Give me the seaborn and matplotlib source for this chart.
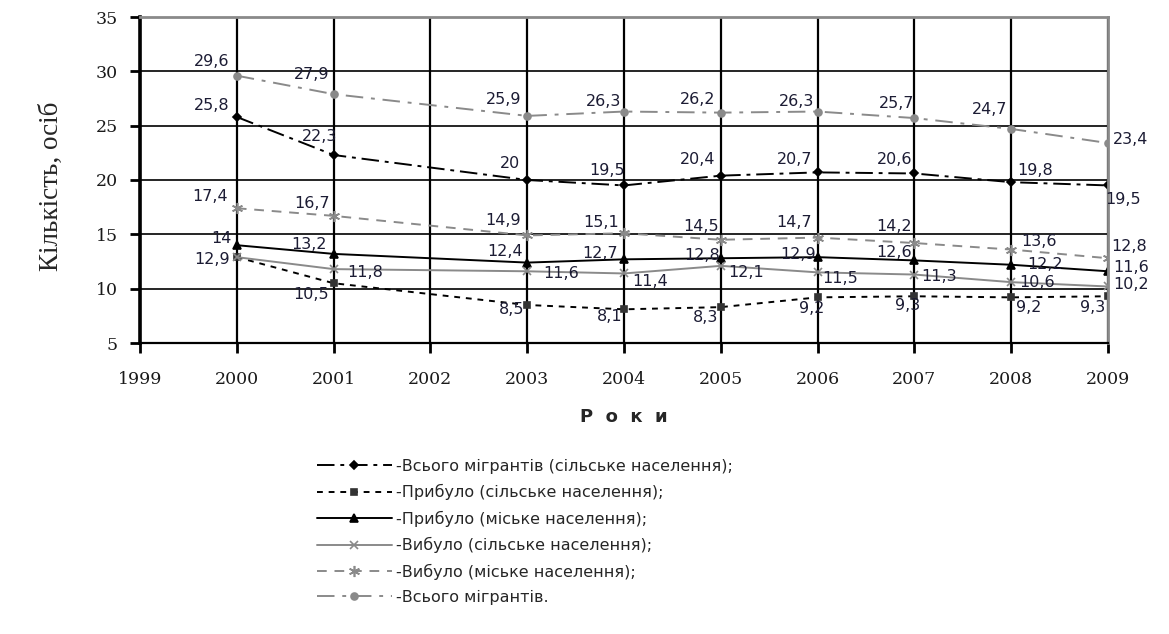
import matplotlib
matplotlib.use("Agg")
import matplotlib.pyplot as plt
import seaborn as sns

# ---- data ----
years = [2000, 2001, 2003, 2004, 2005, 2006, 2007, 2008, 2009]
total_rural = [25.8, 22.3, 20.0, 19.5, 20.4, 20.7, 20.6, 19.8, 19.5]
arrived_rural = [12.9, 10.5, 8.5, 8.1, 8.3, 9.2, 9.3, 9.2, 9.3]
arrived_urban = [14.0, 13.2, 12.4, 12.7, 12.8, 12.9, 12.6, 12.2, 11.6]
left_rural = [12.9, 11.8, 11.6, 11.4, 12.1, 11.5, 11.3, 10.6, 10.2]
left_urban = [17.4, 16.7, 14.9, 15.1, 14.5, 14.7, 14.2, 13.6, 12.8]
total_all = [29.6, 27.9, 25.9, 26.3, 26.2, 26.3, 25.7, 24.7, 23.4]

series_names = [
    "-Всього мігрантів (сільське населення);",
    "-Прибуло (сільське населення);",
    "-Прибуло (міське населення);",
    "-Вибуло (сільське населення);",
    "-Вибуло (міське населення);",
    "-Всього мігрантів.",
]
series_values = [total_rural, arrived_rural, arrived_urban, left_rural, left_urban, total_all]
# points without their own value label (shares label at 2000)
hide_label = [[], [2000], [], [], [], []]

x_ticks = list(range(1999, 2010))
y_ticks = list(range(5, 40, 5))

# ---- styles ----
GREY = "#8a8a8a"
styles = [
    dict(color="black", dashes=(9, 3, 2, 3), marker="D", ms=4.5, mfc="black", mec="black"),
    dict(color="black", dashes=(3, 3), marker="s", ms=5, mfc="#333333", mec="#333333"),
    dict(color="black", dashes=None, marker="^", ms=6, mfc="black", mec="black"),
    dict(color=GREY, dashes=None, marker="x", ms=6, mfc=GREY, mec=GREY),
    dict(color=GREY, dashes=(5, 4), marker=(6, 2, 0), ms=8, mfc=GREY, mec=GREY),
    dict(color=GREY, dashes=(9, 4, 2, 4), marker="o", ms=5, mfc=GREY, mec=GREY),
]
# label offsets in pixels (dx, dy, ha) for each point of each series
C, L, R = "center", "left", "right"
offsets = [
    [(-25, 11, C), (-14, 19, C), (-17, 16, C), (-17, 15, C), (-23, 16, C),
     (-23, 13, C), (-20, 14, C), (24, 12, C), (15, -14, C)],
    [(-14, -14, C), (-23, -11, C), (-16, -5, C), (-14, -7, C), (-15, -10, C),
     (-6, -11, C), (-7, -9, C), (17, -10, C), (-15, -11, C)],
    [(-15, 7, C), (-25, 9, C), (-22, 11, C), (-24, 6, C), (-19, 3, C),
     (-20, 3, C), (-20, 8, C), (16, 0, L), (5, 4, L)],
    [(-7, -2, R), (14, -3, L), (16, -2, L), (8, -8, L), (7, -7, L),
     (5, -6, L), (7, -2, L), (8, 0, L), (5, 2, L)],
    [(-27, 12, C), (-22, 12, C), (-24, 15, C), (-23, 11, C), (-20, 13, C),
     (-24, 15, C), (-20, 17, C), (10, 8, L), (3, 12, L)],
    [(-25, 14, C), (-22, 20, C), (-24, 16, C), (-20, 10, C), (-23, 13, C),
     (-21, 10, C), (-18, 15, C), (-22, 19, C), (5, 4, L)],
]
LABEL_FONT = ["DejaVu Sans"]
LABEL_COLOR = "#1c1c34"

sns.set_theme(style="white")
plt.rcParams["font.family"] = ["DejaVu Sans"]

fig = plt.figure(figsize=(11.69, 6.34), dpi=100)
ax = fig.add_axes([140 / 1169, 1 - 343 / 634, (1108 - 140) / 1169, (343 - 17) / 634])

handles = []
for name, vals, st in zip(series_names, series_values, styles):
    kw = dict(color=st["color"], linewidth=1.4, marker=st["marker"], markersize=st["ms"],
              markerfacecolor=st["mfc"], markeredgecolor=st["mec"], markeredgewidth=1.2)
    sns.lineplot(x=years, y=vals, ax=ax, label=name, legend=False, **kw)
    line = ax.get_lines()[-1]
    if st["dashes"] is not None:
        line.set_dashes(st["dashes"])
    else:
        line.set_linestyle("-")
    handles.append(line)

# value labels
for vals, offs, hide in zip(series_values, offsets, hide_label):
    for x, v, (dx, dy, ha) in zip(years, vals, offs):
        if x in hide:
            continue
        txt = (f"{v:g}").replace(".", ",")
        ax.annotate(txt, (x, v), xytext=(dx, dy), textcoords="offset pixels",
                    ha=ha, va="center", fontsize=11.5, color=LABEL_COLOR,
                    family=LABEL_FONT)

ax.set_xlim(1999, 2009)
ax.set_ylim(5, 35)
ax.set_xticks(x_ticks)
ax.set_yticks(y_ticks)
tick_font = dict(family=["DejaVu Serif"], fontsize=12.5, color="#1a1a1a")
ax.set_xticklabels([str(t) for t in x_ticks], **tick_font)
ax.set_yticklabels([str(t) for t in y_ticks], **tick_font)
ax.grid(True, axis="y", color="black", linewidth=1.2)
ax.grid(True, axis="x", color="black", linewidth=1.6)
ax.set_axisbelow(True)

for s in ["left", "bottom"]:
    ax.spines[s].set_color("black")
ax.spines["left"].set_linewidth(2.6)
ax.spines["bottom"].set_linewidth(1.6)
for s in ["top", "right"]:
    ax.spines[s].set_color(GREY)
    ax.spines[s].set_linewidth(2)

ax.tick_params(axis="both", which="both", direction="out", length=7, width=2,
               color="black", bottom=True, left=True)
ax.tick_params(axis="y", pad=9)
ax.tick_params(axis="x", pad=13)

ax.set_xlabel("Р  о  к  и", fontsize=13, fontweight="bold", family=["DejaVu Sans"])
ax.xaxis.set_label_coords(0.5, -0.2)
ax.set_ylabel("Кількість, осіб", fontsize=19.5, family=["Liberation Serif", "DejaVu Serif"])
ax.yaxis.set_label_coords(-0.079, 0.48)

fig.legend(handles, series_names, loc="upper left", bbox_to_anchor=(0.271, 0.276),
           frameon=False, prop=dict(family=["DejaVu Sans"], size=11.5),
           handlelength=4.7, handletextpad=0.25, labelspacing=0.64, borderaxespad=0,
           borderpad=0)

fig.savefig("out.png", dpi=100)
